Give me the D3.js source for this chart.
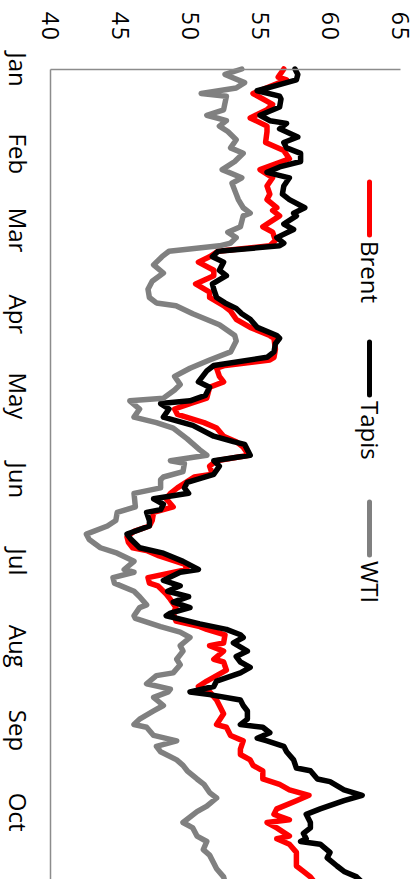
<!DOCTYPE html>
<html><head><meta charset="utf-8">
<script src="https://cdn.jsdelivr.net/npm/d3@7"></script>
<style>html,body{margin:0;padding:0;background:#fff;overflow:hidden} svg{display:block}</style>
</head><body>
<svg id="chart" width="418" height="879"></svg>
<script>
const seriesNames = ["Brent", "Tapis", "WTI"];
const seriesColors = ["#ff0000", "#000000", "#808080"];
const monthTicks = ["2017-01-01","2017-02-01","2017-03-01","2017-04-01","2017-05-01","2017-06-01","2017-07-01","2017-08-01","2017-09-01","2017-10-01"];
const valueTicks = [40, 45, 50, 55, 60, 65];

const brent = [
["2017-01-01",56.7],["2017-01-04",56.3],["2017-01-05",56.9],["2017-01-10",54.5],["2017-01-14",55.9],["2017-01-16",55.5],
["2017-01-19",54.3],["2017-01-22",55.5],["2017-01-24",55.5],["2017-01-28",55.4],["2017-01-31",56.7],["2017-02-03",57.1],
["2017-02-07",55.0],["2017-02-10",55.9],["2017-02-13",55.5],["2017-02-16",55.7],["2017-02-18",55.5],["2017-02-21",56.2],
["2017-02-22",55.9],["2017-02-24",56.4],["2017-02-28",55.2],["2017-03-02",55.9],["2017-03-05",56.1],["2017-03-07",55.7],
["2017-03-09",52.0],["2017-03-11",51.4],["2017-03-13",50.6],["2017-03-16",51.7],["2017-03-18",51.7],["2017-03-21",50.4],
["2017-03-24",51.4],["2017-03-26",51.4],["2017-03-29",52.4],["2017-03-31",52.9],["2017-04-03",53.3],["2017-04-06",54.3],
["2017-04-09",55.7],["2017-04-10",56.0],["2017-04-14",56.1],["2017-04-17",56.0],["2017-04-18",55.7],["2017-04-20",52.5],
["2017-04-21",51.9],["2017-04-24",52.1],["2017-04-26",52.4],["2017-04-28",51.4],["2017-05-02",51.2],["2017-05-04",50.0],
["2017-05-06",48.9],["2017-05-08",49.1],["2017-05-11",51.0],["2017-05-13",51.9],["2017-05-16",52.4],["2017-05-18",53.3],
["2017-05-20",53.8],["2017-05-23",54.2],["2017-05-25",51.9],["2017-05-27",51.4],["2017-05-30",51.6],["2017-05-31",50.3],
["2017-06-04",49.1],["2017-06-06",48.6],["2017-06-08",48.3],["2017-06-11",48.8],["2017-06-13",47.4],["2017-06-16",47.3],
["2017-06-18",47.1],["2017-06-20",46.0],["2017-06-22",45.5],["2017-06-24",45.6],["2017-06-26",45.9],["2017-06-27",46.9],
["2017-06-29",47.8],["2017-07-02",49.6],["2017-07-04",49.8],["2017-07-07",47.0],["2017-07-09",47.1],["2017-07-10",47.7],
["2017-07-13",48.3],["2017-07-15",48.6],["2017-07-18",49.0],["2017-07-20",48.8],["2017-07-23",49.0],["2017-07-25",50.7],
["2017-07-26",51.2],["2017-07-28",52.5],["2017-07-31",52.4],["2017-08-01",51.4],["2017-08-03",52.4],["2017-08-06",51.7],
["2017-08-07",52.4],["2017-08-10",52.6],["2017-08-12",51.9],["2017-08-14",51.2],["2017-08-16",50.6],["2017-08-18",51.4],
["2017-08-21",51.9],["2017-08-23",52.1],["2017-08-26",52.4],["2017-08-30",51.9],["2017-08-31",52.6],["2017-09-03",52.9],
["2017-09-05",53.8],["2017-09-08",53.6],["2017-09-10",53.6],["2017-09-12",54.3],["2017-09-14",54.5],["2017-09-16",55.2],
["2017-09-19",55.2],["2017-09-21",56.4],["2017-09-23",57.1],["2017-09-25",58.5],["2017-09-27",57.6],["2017-09-30",56.2],
["2017-10-02",56.0],["2017-10-04",57.1],["2017-10-05",55.5],["2017-10-07",56.2],["2017-10-10",57.1],["2017-10-11",56.2],
["2017-10-13",57.1],["2017-10-16",57.6],["2017-10-18",57.6],["2017-10-21",57.6],["2017-10-23",58.1],["2017-10-25",58.6],
["2017-10-27",58.9]
];

const tapis = [
["2017-01-01",57.5],["2017-01-03",57.7],["2017-01-05",57.6],["2017-01-07",56.2],["2017-01-09",54.8],["2017-01-11",56.4],
["2017-01-12",56.5],["2017-01-15",56.4],["2017-01-18",55.0],["2017-01-20",55.7],["2017-01-21",56.9],["2017-01-23",56.4],
["2017-01-26",57.7],["2017-01-28",56.7],["2017-01-30",56.9],["2017-02-01",57.9],["2017-02-04",57.9],["2017-02-06",56.4],
["2017-02-08",55.5],["2017-02-10",57.1],["2017-02-13",56.7],["2017-02-16",56.6],["2017-02-18",57.1],["2017-02-21",58.2],
["2017-02-23",57.4],["2017-02-24",57.6],["2017-02-27",56.7],["2017-03-01",57.4],["2017-03-04",56.2],["2017-03-06",56.7],
["2017-03-07",56.4],["2017-03-09",52.0],["2017-03-11",51.6],["2017-03-13",52.4],["2017-03-16",52.1],["2017-03-18",52.6],
["2017-03-21",51.6],["2017-03-23",51.7],["2017-03-26",51.9],["2017-03-28",52.5],["2017-03-30",53.3],["2017-04-01",53.7],
["2017-04-03",54.3],["2017-04-06",54.8],["2017-04-09",56.2],["2017-04-10",56.4],["2017-04-12",56.1],["2017-04-15",56.0],
["2017-04-17",55.5],["2017-04-20",51.7],["2017-04-22",51.2],["2017-04-26",50.6],["2017-04-28",51.4],["2017-05-01",51.1],
["2017-05-03",50.0],["2017-05-04",47.9],["2017-05-06",48.5],["2017-05-09",48.1],["2017-05-12",50.2],["2017-05-16",51.7],
["2017-05-18",53.1],["2017-05-19",53.9],["2017-05-23",54.3],["2017-05-25",51.7],["2017-05-27",52.1],["2017-05-30",51.7],
["2017-06-02",49.8],["2017-06-04",49.6],["2017-06-06",49.9],["2017-06-08",47.4],["2017-06-10",48.1],["2017-06-12",47.9],
["2017-06-13",46.9],["2017-06-16",47.1],["2017-06-18",47.1],["2017-06-21",45.5],["2017-06-23",45.8],["2017-06-26",46.4],
["2017-06-28",48.1],["2017-07-01",49.5],["2017-07-04",50.6],["2017-07-05",49.3],["2017-07-08",48.1],["2017-07-10",49.3],
["2017-07-12",48.4],["2017-07-14",49.9],["2017-07-16",48.8],["2017-07-18",50.0],["2017-07-20",48.6],["2017-07-21",48.3],
["2017-07-24",50.7],["2017-07-26",52.6],["2017-07-28",53.6],["2017-07-29",53.8],["2017-07-31",53.1],["2017-08-03",54.1],
["2017-08-05",53.3],["2017-08-07",53.6],["2017-08-09",54.3],["2017-08-11",53.6],["2017-08-14",51.9],["2017-08-16",51.7],
["2017-08-18",50.0],["2017-08-19",51.4],["2017-08-21",53.6],["2017-08-23",53.8],["2017-08-25",54.1],["2017-08-28",54.1],
["2017-08-30",53.6],["2017-08-31",55.2],["2017-09-02",55.7],["2017-09-04",54.8],["2017-09-05",55.5],["2017-09-07",56.7],
["2017-09-09",56.9],["2017-09-12",57.4],["2017-09-15",57.6],["2017-09-16",58.6],["2017-09-19",59.1],["2017-09-20",60.0],
["2017-09-23",61.0],["2017-09-25",62.3],["2017-09-27",61.0],["2017-09-30",59.3],["2017-10-02",58.3],["2017-10-05",58.6],
["2017-10-07",58.6],["2017-10-09",58.1],["2017-10-11",58.3],["2017-10-12",57.9],["2017-10-13",59.3],["2017-10-16",60.0],
["2017-10-18",59.8],["2017-10-21",60.5],["2017-10-23",61.0],["2017-10-25",61.9],["2017-10-27",62.3]
];

const wti = [
["2017-01-01",53.7],["2017-01-03",52.5],["2017-01-06",53.9],["2017-01-08",53.3],["2017-01-10",50.8],["2017-01-11",52.6],
["2017-01-16",52.4],["2017-01-18",51.2],["2017-01-20",52.6],["2017-01-22",52.1],["2017-01-24",52.7],["2017-01-27",53.3],
["2017-01-30",52.9],["2017-02-01",53.8],["2017-02-04",53.2],["2017-02-07",52.3],["2017-02-10",53.7],["2017-02-12",53.0],
["2017-02-16",53.3],["2017-02-18",53.45],["2017-02-21",53.8],["2017-02-23",54.3],["2017-02-24",53.8],["2017-02-26",53.7],
["2017-02-28",53.6],["2017-03-02",52.7],["2017-03-04",53.3],["2017-03-06",52.9],["2017-03-07",52.1],["2017-03-09",48.5],
["2017-03-11",48.0],["2017-03-14",47.4],["2017-03-17",48.1],["2017-03-20",47.3],["2017-03-23",47.0],["2017-03-26",47.1],
["2017-03-28",47.6],["2017-03-29",49.0],["2017-04-01",50.2],["2017-04-05",52.1],["2017-04-09",53.2],["2017-04-11",53.3],
["2017-04-15",52.9],["2017-04-18",51.4],["2017-04-21",50.0],["2017-04-24",48.9],["2017-04-27",49.3],["2017-04-29",48.9],
["2017-05-02",48.1],["2017-05-03",45.7],["2017-05-06",46.4],["2017-05-09",46.0],["2017-05-11",47.6],["2017-05-13",48.8],
["2017-05-17",49.8],["2017-05-21",50.7],["2017-05-23",51.2],["2017-05-25",48.6],["2017-05-26",49.6],["2017-05-29",49.5],
["2017-05-31",48.1],["2017-06-01",47.9],["2017-06-04",47.9],["2017-06-06",46.0],["2017-06-11",46.1],["2017-06-13",44.8],
["2017-06-16",44.7],["2017-06-18",44.1],["2017-06-21",42.6],["2017-06-23",42.8],["2017-06-26",43.6],["2017-06-28",44.8],
["2017-07-01",46.0],["2017-07-04",45.3],["2017-07-05",46.0],["2017-07-07",44.5],["2017-07-09",44.6],["2017-07-12",46.0],
["2017-07-14",46.4],["2017-07-17",46.9],["2017-07-18",46.4],["2017-07-21",46.0],["2017-07-22",46.1],["2017-07-25",47.9],
["2017-07-27",49.3],["2017-07-29",50.0],["2017-08-01",49.3],["2017-08-03",49.5],["2017-08-06",49.05],["2017-08-08",49.3],
["2017-08-11",48.8],["2017-08-12",47.6],["2017-08-15",46.9],["2017-08-17",48.6],["2017-08-18",48.45],["2017-08-20",47.4],
["2017-08-23",48.1],["2017-08-25",47.4],["2017-08-28",46.4],["2017-08-30",46.0],["2017-08-31",46.9],["2017-09-03",47.4],
["2017-09-05",49.05],["2017-09-07",47.6],["2017-09-09",47.9],["2017-09-12",49.05],["2017-09-14",49.5],["2017-09-16",49.8],
["2017-09-19",50.5],["2017-09-21",51.0],["2017-09-24",51.4],["2017-09-26",51.9],["2017-09-29",51.2],["2017-10-01",50.5],
["2017-10-05",49.5],["2017-10-07",50.2],["2017-10-10",50.5],["2017-10-12",51.2],["2017-10-15",50.95],["2017-10-17",51.4],
["2017-10-20",51.7],["2017-10-22",51.9],["2017-10-25",52.4],["2017-10-27",52.5]
];

const seriesData = [brent, tapis, wti];

const parse = d3.utcParse("%Y-%m-%d");
const svg = d3.select("#chart");
const font = "'Open Sans', 'DejaVu Sans', sans-serif";

const x = d3.scaleLinear().domain([40, 65]).range([50, 400]);
const y = d3.scaleUtc().domain([parse("2017-01-01"), parse("2017-10-26")]).range([69, 879.6]);

// series lines
const line = d3.line().x(d => x(d[1])).y(d => y(parse(d[0])));
seriesData.forEach((data, i) => {
  svg.append("path")
    .datum(data)
    .attr("d", line)
    .attr("fill", "none")
    .attr("stroke", seriesColors[i])
    .attr("stroke-width", 5.5)
    .attr("stroke-linejoin", "round")
    .attr("stroke-linecap", "round");
});

// category (time) axis on the left
const yAxis = d3.axisLeft(y)
  .tickValues(monthTicks.map(parse))
  .tickFormat(d3.utcFormat("%b"))
  .tickSize(0).tickSizeOuter(0);
svg.append("g").attr("transform", "translate(50,0)").call(yAxis)
  .call(g => g.select(".domain").attr("stroke", "#8c8c8c").attr("stroke-width", 1.5))
  .call(g => g.selectAll("text")
    .attr("x", 0).attr("y", 41).attr("dy", null)
    .attr("text-anchor", "middle")
    .attr("transform", "rotate(90)")
    .attr("fill", "#000")
    .style("font-family", font).style("font-size", "24px"));

// value axis on the top
const xAxis = d3.axisTop(x).tickValues(valueTicks).tickSize(0).tickSizeOuter(0);
svg.append("g").attr("transform", "translate(0,69)").call(xAxis)
  .call(g => g.select(".domain").attr("stroke", "#8c8c8c").attr("stroke-width", 1.5))
  .call(g => g.selectAll("text")
    .attr("x", -27).attr("y", 8.5).attr("dy", null)
    .attr("text-anchor", "end")
    .attr("transform", "rotate(90)")
    .attr("fill", "#000")
    .style("font-family", font).style("font-size", "23px").style("letter-spacing", "2px"));

// legend
const legendTop = [182, 342, 502];
seriesNames.forEach((name, i) => {
  const g = svg.append("g");
  g.append("line")
    .attr("x1", 369.5).attr("x2", 369.5)
    .attr("y1", legendTop[i]).attr("y2", legendTop[i] + 53)
    .attr("stroke", seriesColors[i]).attr("stroke-width", 5).attr("stroke-linecap", "round");
  g.append("text")
    .attr("transform", `translate(361,${legendTop[i] + 59}) rotate(90)`)
    .attr("text-anchor", "start")
    .style("font-family", font).style("font-size", "24px")
    .attr("fill", "#000")
    .text(name);
});
</script>
</body></html>
